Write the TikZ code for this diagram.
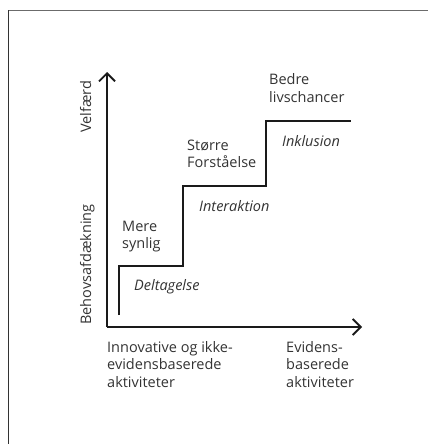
\documentclass[tikz,border=0pt]{standalone}
\usepackage{fontspec}
\setmainfont{Open Sans}
\usetikzlibrary{arrows.meta}
\definecolor{chartInk}{HTML}{1A1A1A}
\definecolor{chartText}{HTML}{333333}
\definecolor{chartFrame}{HTML}{6B6B6B}

\begin{document}
\begin{tikzpicture}[x=1pt, y=-1pt,
      lbl/.style={text=chartText, font=\fontsize{14.5}{17.5}\selectfont,
        align=left, inner sep=0pt, anchor=base west},
      phaselbl/.style={lbl, font=\fontsize{14.5}{17.5}\selectfont\itshape},
      axislbl/.style={lbl, rotate=90},
      axis/.style={-{Straight Barb[length=8pt, width=16pt]}, line width=1.8pt, chartInk},
      stairs/.style={line width=1.8pt, chartInk}]
    \useasboundingbox (0,0) rectangle (428,444);
    \draw[chartFrame, line width=1.5pt] (8.5,10.5) -- (428,10.5);
    \draw[chartText, line width=1.2pt] (8.5,10.5) -- (8.5,444);

    \coordinate (origin) at (107,327);
    \coordinate (ytip) at (107,72);
    \coordinate (xtip) at (362,327);
    \coordinate (s0) at (119,315);
    \coordinate (s1) at (183,266);
    \coordinate (s2) at (266,186);
    \coordinate (s3) at (351,121);

    % multi-line labels sit on the baseline of their last line
    \node[lbl] (mere) at (122,248.5) {Mere\\synlig};
    \node[phaselbl] (deltagelse) at (134,290) {Deltagelse};
    \node[lbl] (stoerre) at (187,167.5) {Større\\Forståelse};
    \node[phaselbl] (interaktion) at (199,211) {Interaktion};
    \node[lbl] (bedre) at (269,102.5) {Bedre\\livschancer};
    \node[phaselbl] (inklusion) at (282,146) {Inklusion};
    \node[axislbl] (velfaerd) at (91,133) {Velfærd};
    \node[axislbl] (behov) at (91,325) {Behovsafdækning};
    \node[lbl] (innov) at (107,387) {Innovative og ikke-\\evidensbaserede\\aktiviteter};
    \node[lbl] (evidens) at (286,387) {Evidens-\\baserede\\aktiviteter};

    \draw[axis] (origin) -- (ytip);
    \draw[axis] (origin) -- (xtip);
    \draw[stairs] (s0) |- (s1) |- (s2) |- (s3);
  \end{tikzpicture}
\end{document}
